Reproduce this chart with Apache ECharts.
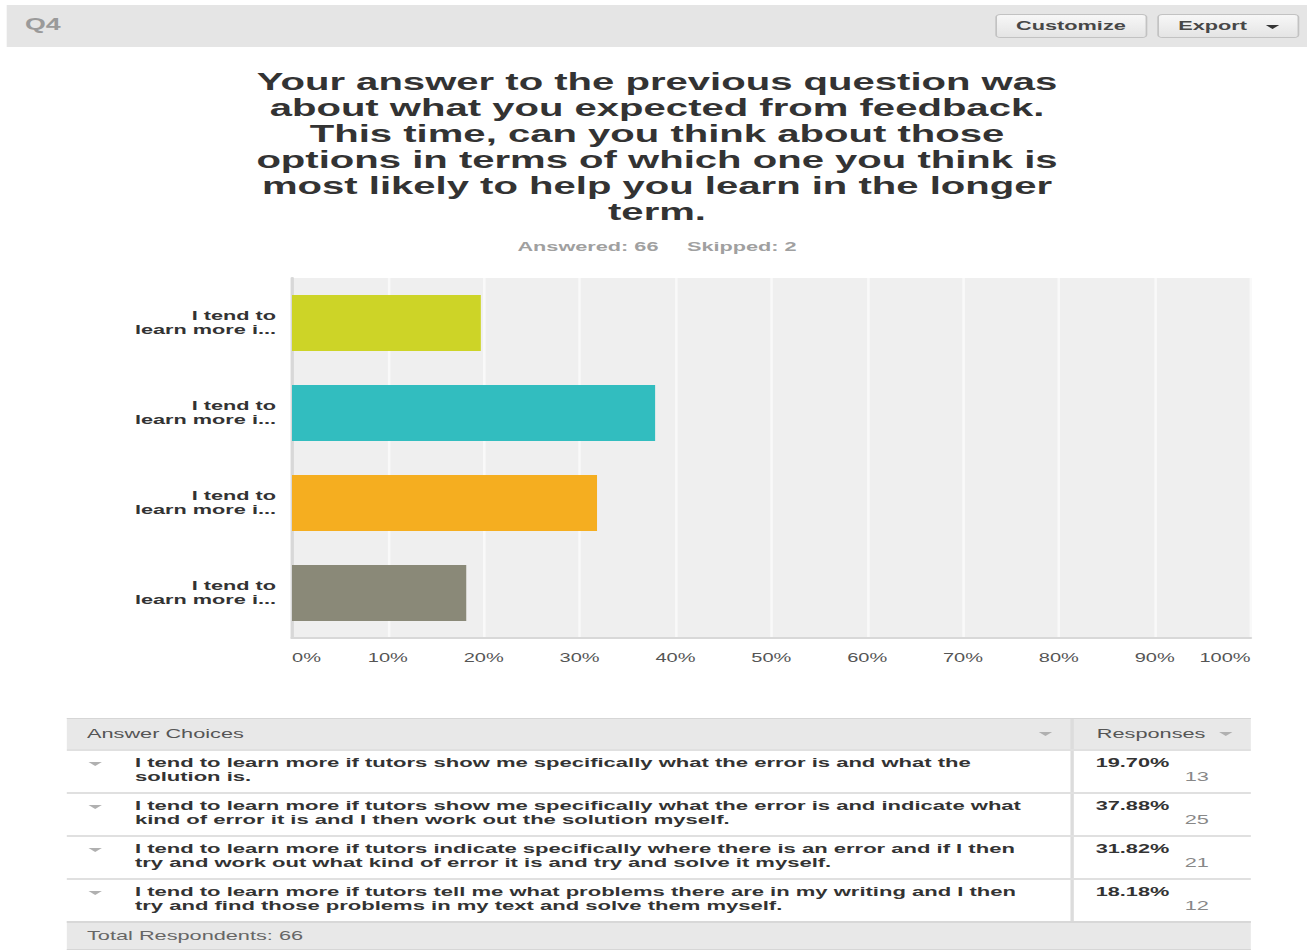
<!DOCTYPE html>
<html>
<head>
<meta charset="utf-8">
<title>Q4</title>
<script src="https://cdn.jsdelivr.net/npm/echarts@6/dist/echarts.min.js"></script>
<style>
  html, body { margin: 0; padding: 0; background: #fff; overflow: hidden; }
  /* the whole screenshot is stretched sideways, so the page is laid out
     narrow and scaled on x only */
  #page {
    position: absolute; left: 0; top: 0; height: 951px;
    transform-origin: 0 0;
    font-family: "Liberation Sans", Arial, sans-serif;
    color: #333;
  }
  #chart { position: absolute; left: 0; top: 0; height: 700px; }
  .bar-top {
    position: absolute; left: 3.6px; top: 5px; width: 779px; height: 42px;
    background: #e5e5e5;
  }
  .q-num {
    position: absolute; left: 11.4px; top: 7px; font-size: 16px; font-weight: bold;
    color: #9a9a9a; line-height: 26px;
  }
  .btn {
    position: absolute; top: 9px; height: 24px; box-sizing: border-box;
    border: 1px solid #c2c2c2; border-radius: 3px;
    background: linear-gradient(#f7f7f7, #e4e4e4);
    font-size: 13px; font-weight: bold; color: #474747; line-height: 22px;
    text-align: center;
  }
  .caret {
    display: inline-block; width: 0; height: 0; vertical-align: middle;
    border-left: 4px solid transparent; border-right: 4px solid transparent;
    border-top: 4px solid #333;
  }
  .caret.light { border-top-color: #b0b0b0; }
  #table {
    position: absolute; left: 39.5px; top: 718px; width: 709px; height: 233px;
    font-size: 13px;
  }
  .row { position: absolute; left: 0; width: 709px; box-sizing: border-box; }
  .head { top: 0; height: 31px; background: #e8e8e8; border-top: 1px solid #d6d6d6; color: #555; }
  .foot { top: 203px; height: 29px; background: #e8e8e8; border-top: 2px solid #d8d8d8;
          border-bottom: 1px solid #d6d6d6; color: #666; }
  .cell { position: absolute; top: 0; bottom: 0; }
  .c1 { left: 0; width: 601.8px; }
  .c2 { left: 601.8px; width: 107.2px; border-left: 2px solid #dcdcdc; box-sizing: border-box; }
  .body { height: 43px; border-top: 2px solid #e0e0e0; }
  .txt { position: absolute; left: 41.3px; top: 5px; width: 538px; line-height: 14px;
         font-size: 13.2px; font-weight: bold; color: #333; }
  .pct { position: absolute; left: 12.8px; top: 5px; line-height: 14px; font-weight: bold; color: #333; }
  .cnt { position: absolute; right: 24.6px; top: 19px; line-height: 14px; color: #888; }
</style>
</head>
<body>
<div id="page">
  <div id="chart"></div>
  <div class="bar-top">
    <div class="q-num">Q4</div>
    <div class="btn" style="left:592.2px;width:91px;">Customize</div>
    <div class="btn" style="left:689.2px;width:85.6px;">Export&nbsp;&nbsp;&nbsp;<span class="caret"></span></div>
  </div>
  <div id="table"></div>
</div>
<script>
  const S = 1.67;            // horizontal stretch of the reference
  const W = 1307 / S;

  const questionTitle = [
    'Your answer to the previous question was',
    'about what you expected from feedback.',
    'This time, can you think about those',
    'options in terms of which one you think is',
    'most likely to help you learn in the longer',
    'term.'
  ];
  const answered = 66;
  const skipped = 2;

  const tickLabels = [
    'I tend to\nlearn more i...',
    'I tend to\nlearn more i...',
    'I tend to\nlearn more i...',
    'I tend to\nlearn more i...'
  ];
  const choices = [
    'I tend to learn more if tutors show me specifically what the error is and what the solution is.',
    'I tend to learn more if tutors show me specifically what the error is and indicate what kind of error it is and I then work out the solution myself.',
    'I tend to learn more if tutors indicate specifically where there is an error and if I then try and work out what kind of error it is and try and solve it myself.',
    'I tend to learn more if tutors tell me what problems there are in my writing and I then try and find those problems in my text and solve them myself.'
  ];
  const percents = [19.70, 37.88, 31.82, 18.18];
  const counts = [13, 25, 21, 12];
  const totalRespondents = 66;

  const barColors = ['#cdd427', '#32bdbf', '#f5ae20', '#8a8978'];

  const page = document.getElementById('page');
  page.style.width = W + 'px';
  page.style.transform = 'scaleX(' + S + ')';
  const chartEl = document.getElementById('chart');
  chartEl.style.width = W + 'px';

  const font = '"Liberation Sans", Arial, sans-serif';
  const chart = echarts.init(chartEl, null, {renderer: 'svg'});
  chart.setOption({
    animation: false,
    title: {
      text: questionTitle.join('\n'),
      subtext: '{a|Answered: ' + answered + '}{b|Skipped: ' + skipped + '}',
      left: 657 / S,
      top: 69,
      textAlign: 'center',
      padding: 0,
      itemGap: 14,
      textStyle: {
        fontFamily: font,
        fontSize: 24,
        fontWeight: 'bold',
        lineHeight: 26,
        color: '#333'
      },
      subtextStyle: {
        rich: {
          a: {fontFamily: font, fontSize: 13, fontWeight: 'bold', color: '#a0a0a0', lineHeight: 16},
          b: {fontFamily: font, fontSize: 13, fontWeight: 'bold', color: '#a0a0a0', lineHeight: 16, padding: [0, 0, 0, 17]}
        }
      }
    },
    grid: {
      left: 292 / S,
      right: W - 1250 / S,
      top: 278,
      height: 360,
      show: true,
      backgroundColor: '#efefef',
      borderWidth: 0
    },
    xAxis: {
      type: 'value',
      min: 0,
      max: 100,
      interval: 10,
      axisLine: {show: true, lineStyle: {color: '#d8d8d8', width: 2}},
      axisTick: {show: false},
      splitLine: {show: true, lineStyle: {color: '#f9f9f9', width: 1.5}},
      axisLabel: {
        formatter: '{value}%',
        fontFamily: font,
        fontSize: 12,
        color: '#555',
        margin: 14,
        alignMinLabel: 'left',
        alignMaxLabel: 'right'
      }
    },
    yAxis: {
      type: 'category',
      data: tickLabels,
      inverse: true,
      axisLine: {show: true, lineStyle: {color: '#d8d8d8', width: 2}},
      axisTick: {show: false},
      splitLine: {show: false},
      axisLabel: {
        fontFamily: font,
        fontSize: 13,
        fontWeight: 'bold',
        lineHeight: 14,
        color: '#333',
        margin: 16 / S
      }
    },
    series: [{
      type: 'bar',
      barWidth: 56,
      data: percents.map((v, i) => ({value: v, itemStyle: {color: barColors[i]}}))
    }]
  });

  // answer table under the chart
  const table = document.getElementById('table');
  let html = '';
  html += '<div class="row head">' +
    '<div class="cell c1"><span style="position:absolute;left:12.6px;top:7px;line-height:16px;">Answer Choices</span>' +
    '<span class="caret light" style="position:absolute;left:582.8px;top:13px;"></span></div>' +
    '<div class="cell c2"><span style="position:absolute;left:13.5px;top:7px;line-height:16px;">Responses</span>' +
    '<span class="caret light" style="position:absolute;left:87px;top:13px;"></span></div>' +
    '</div>';
  choices.forEach((c, i) => {
    html += '<div class="row body" style="top:' + (31 + 43 * i) + 'px;">' +
      '<div class="cell c1"><span class="caret light" style="position:absolute;left:13.4px;top:11px;"></span>' +
      '<div class="txt">' + c + '</div></div>' +
      '<div class="cell c2"><div class="pct">' + percents[i].toFixed(2) + '%</div>' +
      '<div class="cnt">' + counts[i] + '</div></div>' +
      '</div>';
  });
  html += '<div class="row foot"><span style="position:absolute;left:12.6px;top:5px;line-height:16px;">Total Respondents: ' +
    totalRespondents + '</span></div>';
  table.innerHTML = html;
</script>
</body>
</html>
